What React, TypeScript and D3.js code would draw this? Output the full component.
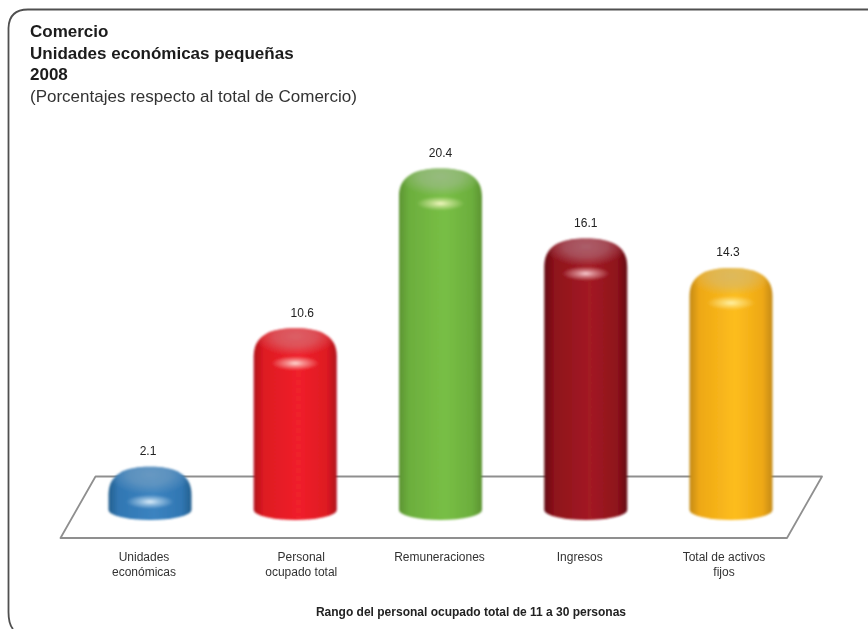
import React from "react";
import * as d3 from "d3";

const categories = ["Unidades económicas", "Personal ocupado total", "Remuneraciones", "Ingresos", "Total de activos fijos"];
const categoryLines = [["Unidades", "económicas"], ["Personal", "ocupado total"], ["Remuneraciones"], ["Ingresos"], ["Total de activos", "fijos"]];
const values = [2.1, 10.6, 20.4, 16.1, 14.3];
const valueLabels = ["2.1", "10.6", "20.4", "16.1", "14.3"];
const valueLabelDx = [-2, 7, 0, 0, -3];
const categoryLabelDx = [-6, 6, -1, -6, -7];
const palettes = [
  { dark: "#24608f", mid: "#3b83c0", light: "#3177b3", cap: "#6f9cc2", spec: "#e8f6ff" },
  { dark: "#b0101a", mid: "#f0202a", light: "#de1a22", cap: "#d86a70", spec: "#ffe8e0" },
  { dark: "#5d9433", mid: "#78bf45", light: "#6cae3d", cap: "#9cbb88", spec: "#fbfbc8" },
  { dark: "#640912", mid: "#a31a24", light: "#8e121b", cap: "#ad6a76", spec: "#ffd8dc" },
  { dark: "#c48a14", mid: "#fdbd1c", light: "#eea817", cap: "#d8b868", spec: "#fff6b0" },
];
const titleLines = ["Comercio", "Unidades económicas pequeñas", "2008"];
const subtitle = "(Porcentajes respecto al total de Comercio)";
const xTitle = "Rango del personal ocupado total de 11 a 30 personas";

const W = 868, H = 629;
const FONT = "'Liberation Sans', Arial, sans-serif";

export default function App() {
  const x = d3.scalePoint<string>().domain(categories).range([150, 731]);
  const y = d3.scaleLinear().domain([0, 20]).range([501, 175]);
  const hw = 41.5;
  const baseY = 510;
  const capH = 28;
  const barPath = (cx: number, top: number) =>
    `M${cx - hw},${top + capH} C${cx - hw},${top + 7} ${cx - hw * 0.6},${top} ${cx},${top}
     C${cx + hw * 0.6},${top} ${cx + hw},${top + 7} ${cx + hw},${top + capH}
     V${baseY} A${hw},10 0 0 1 ${cx - hw},${baseY} Z`;
  return (
    <svg width={W} height={H} viewBox={`0 0 ${W} ${H}`}
      style={{ position: "fixed", left: 0, top: 0, background: "#fff", fontFamily: FONT }}>
      <defs>
        {palettes.map((p, i) => (
          <React.Fragment key={i}>
            <linearGradient id={`body${i}`} x1="0" x2="1" y1="0" y2="0">
              <stop offset="0" stopColor={p.dark} />
              <stop offset="0.12" stopColor={p.light} />
              <stop offset="0.55" stopColor={p.mid} />
              <stop offset="0.88" stopColor={p.light} />
              <stop offset="1" stopColor={p.dark} />
            </linearGradient>
            <radialGradient id={`cap${i}`}>
              <stop offset="0" stopColor={p.cap} stopOpacity="0.85" />
              <stop offset="0.5" stopColor={p.cap} stopOpacity="0.65" />
              <stop offset="1" stopColor={p.cap} stopOpacity="0" />
            </radialGradient>
            <radialGradient id={`spec${i}`}>
              <stop offset="0" stopColor={p.spec} stopOpacity="0.95" />
              <stop offset="0.35" stopColor={p.spec} stopOpacity="0.55" />
              <stop offset="1" stopColor={p.spec} stopOpacity="0" />
            </radialGradient>
            <clipPath id={`clip${i}`}>
              <path d={barPath(x(categories[i])!, y(values[i]))} />
            </clipPath>
          </React.Fragment>
        ))}
        <filter id="soft" x="-5%" y="-5%" width="110%" height="110%"><feGaussianBlur stdDeviation="0.9" /></filter>
        <filter id="txt" x="-2%" y="-20%" width="104%" height="140%"><feGaussianBlur stdDeviation="0.3" /></filter>
      </defs>

      <path d="M13,629 Q8.5,624 8.5,612 V28 Q9,9.5 28,9.5 H868" fill="none" stroke="#505050" strokeWidth={1.8} />

      <g filter="url(#txt)">
        <g fontSize={17} fill="#1a1a1a" fontWeight={700}>
          {titleLines.map((t, i) => <text key={t} x={30} y={37 + i * 21.7}>{t}</text>)}
        </g>
        <text x={30} y={102} fontSize={17} fill="#333">{subtitle}</text>
      </g>

      <path d="M95.5,476.5 H822 L787,538 H60.5 Z" fill="none" stroke="#8f8f8f" strokeWidth={1.8} strokeLinejoin="round" filter="url(#txt)" />

      {categories.map((c, i) => {
        const cx = x(c)!;
        const top = y(values[i]);
        return (
          <g key={c} filter="url(#soft)">
            <path d={barPath(cx, top)} fill={`url(#body${i})`} />
            <g clipPath={`url(#clip${i})`}>
              <ellipse cx={cx} cy={top + 8} rx={hw} ry={20} fill={`url(#cap${i})`} />
              <ellipse cx={cx} cy={top + 35} rx={24} ry={7} fill={`url(#spec${i})`} />
            </g>
          </g>
        );
      })}

      <g filter="url(#txt)">
        <g fontSize={12} fill="#222" textAnchor="middle">
          {categories.map((c, i) => (
            <text key={c} x={x(c)! + valueLabelDx[i]} y={y(values[i]) - 11.5}>{valueLabels[i]}</text>
          ))}
        </g>
        <g fontSize={12} fill="#333" textAnchor="middle">
          {categories.map((c, i) => categoryLines[i].map((l, j) => (
            <text key={l} x={x(c)! + categoryLabelDx[i]} y={561 + j * 15}>{l}</text>
          )))}
        </g>
        <text x={471} y={616} fontSize={12} fontWeight={700} fill="#222" textAnchor="middle">{xTitle}</text>
      </g>
    </svg>
  );
}
